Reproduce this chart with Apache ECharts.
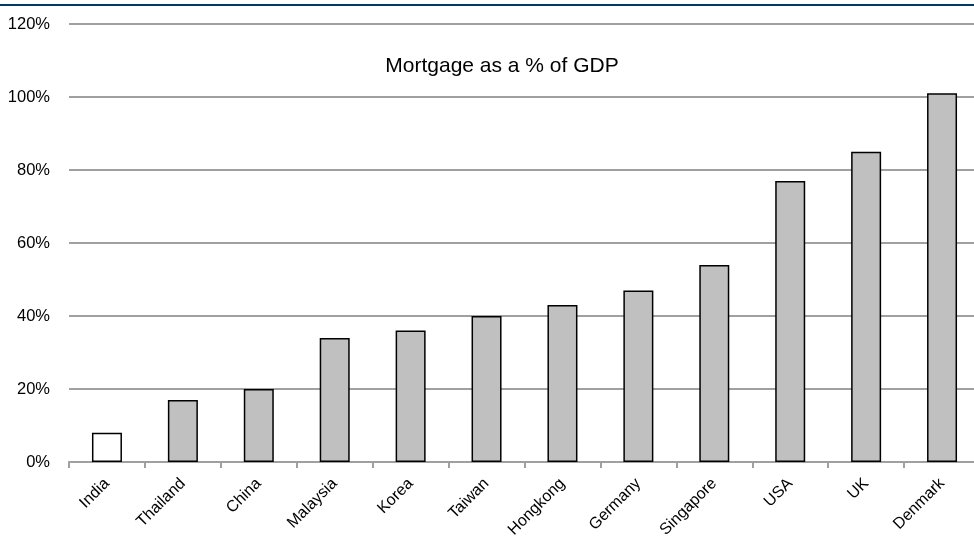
<!DOCTYPE html>
<html><head><meta charset="utf-8">
<script src="https://cdn.jsdelivr.net/npm/echarts@6/dist/echarts.min.js"></script>
<style>html,body{margin:0;padding:0;background:#fff}#c{width:974px;height:540px}</style>
</head><body><div id="c"></div>
<script>
const categories = ['India','Thailand','China','Malaysia','Korea','Taiwan','Hongkong','Germany','Singapore','USA','UK','Denmark'];
const mortgagePct = [8,17,20,34,36,40,43,47,54,77,85,101];
const chartTitle = 'Mortgage as a % of GDP';

const chart = echarts.init(document.getElementById('c'));
chart.setOption({
  animation: false,
  backgroundColor: '#fff',
  title: {
    text: chartTitle,
    left: 497, top: 51, textAlign: 'center',
    textStyle: {fontFamily: 'Liberation Sans', fontSize: 21, fontWeight: 'normal', color: '#000'}
  },
  graphic: [{
    type: 'rect', shape: {x: 0, y: 4, width: 974, height: 2},
    style: {fill: '#003a66'}, silent: true
  }],
  grid: {left: 69, right: -6, top: 24, bottom: 78, containLabel: false, outerBoundsMode: 'none'},
  xAxis: {
    type: 'category', data: categories,
    axisLine: {lineStyle: {color: '#a0a0a0', width: 2}},
    axisTick: {show: true, alignWithLabel: false, length: 6, lineStyle: {color: '#a0a0a0', width: 2}},
    axisLabel: {rotate: 45, margin: 19, fontFamily: 'Liberation Sans', fontSize: 16, color: '#000'}
  },
  yAxis: {
    type: 'value', min: 0, max: 120, interval: 20,
    axisLine: {show: false}, axisTick: {show: false},
    splitLine: {lineStyle: {color: '#a0a0a0', width: 2}},
    axisLabel: {formatter: '{value}%', margin: 19, fontFamily: 'Liberation Sans', fontSize: 16.5, color: '#000'}
  },
  series: [{
    type: 'bar', barWidth: 30,
    data: mortgagePct.map((v, i) => ({
      value: v,
      itemStyle: {color: i === 0 ? '#ffffff' : '#c0c0c0', borderColor: '#000', borderWidth: 1.5}
    }))
  }]
});
</script></body></html>
